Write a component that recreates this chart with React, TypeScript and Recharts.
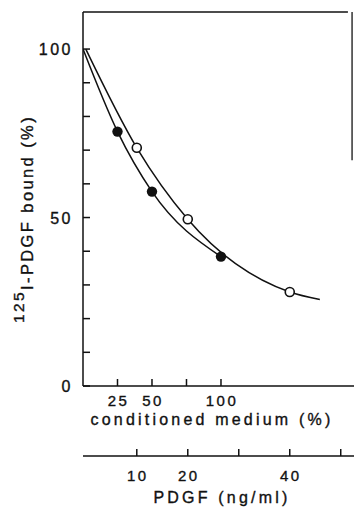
import { ComposedChart, Line, Scatter, XAxis, YAxis, ReferenceLine } from 'recharts';

// conditioned medium (%) axis
const mediumTicks = [25, 50, 75, 100];
const mediumLabels = [25, 50, 100];
// PDGF (ng/ml) axis
const pdgfTicks = [10, 20, 30, 40, 50];
const pdgfLabels = [10, 20, 40];
// bound (%) axis
const boundTicks = [0, 10, 20, 30, 40, 50, 60, 70, 80, 90, 100];
const boundLabels = [0, 50, 100];

// filled circles: conditioned medium
const mediumPoints = [
  { cm: 25, bound: 75.5 },
  { cm: 50, bound: 57.7 },
  { cm: 100, bound: 38.4 },
];
// open circles: pure PDGF
const pdgfPoints = [
  { pdgf: 10, bound: 70.7 },
  { pdgf: 20, bound: 49.5 },
  { pdgf: 40, bound: 27.9 },
];
// fitted curves as drawn (start at 100 %, PDGF curve runs past the last point)
const mediumCurve = [{ cm: 0, bound: 100 }, ...mediumPoints];
const pdgfCurve = [{ pdgf: 0, bound: 100 }, ...pdgfPoints, { pdgf: 45.9, bound: 25.7 }];

const INK = '#111';
const FONT = '"Liberation Sans", Arial, sans-serif';

function BoundTick({ x, y, payload }: any) {
  const v = payload.value;
  return (
    <g>
      <line x1={x} y1={y} x2={x + 7} y2={y} stroke={INK} strokeWidth={1.5} />
      {boundLabels.includes(v) && (
        <text x={x - 10} y={y + 6} textAnchor="end" fontSize={16} fontFamily={FONT} fill={INK} stroke={INK} strokeWidth={0.35} style={{ letterSpacing: 2.5 }}>
          {v}
        </text>
      )}
    </g>
  );
}

function makeXTick(labels: number[], dy: number) {
  return ({ x, y, payload }: any) => {
    const v = payload.value;
    return (
      <g>
        <line x1={x} y1={y} x2={x} y2={y - 7} stroke={INK} strokeWidth={1.5} />
        {labels.includes(v) && (
          <text x={x + 1} y={y + dy} textAnchor="middle" fontSize={15} fontFamily={FONT} fill={INK} stroke={INK} strokeWidth={0.35} style={{ letterSpacing: 2.5 }}>
            {v}
          </text>
        )}
      </g>
    );
  };
}

const MediumTick = makeXTick(mediumLabels, 20);
const PdgfTick = makeXTick(pdgfLabels, 25);

function AxisTitle(text: string, cx: number, dy: number) {
  return ({ viewBox }: any) => (
    <text x={cx} y={viewBox.y + dy} textAnchor="middle" fontSize={16} fontFamily={FONT} fill={INK} stroke={INK} strokeWidth={0.35} style={{ letterSpacing: 3.2 }}>
      {text}
    </text>
  );
}

function BoundTitle() {
  const cx = 33;
  const cy = 219;
  return (
    <text transform={`rotate(-90, ${cx}, ${cy})`} x={cx} y={cy} textAnchor="middle" fontSize={16.5} fontFamily={FONT} fill={INK} stroke={INK} strokeWidth={0.35} style={{ letterSpacing: 2.4 }}>
      <tspan dy={-9} fontSize={15.5}>125</tspan>
      <tspan dy={9}>I-PDGF bound (%)</tspan>
    </text>
  );
}

const Filled = ({ cx, cy }: any) => <circle cx={cx} cy={cy} r={5.2} fill={INK} />;
const Open = ({ cx, cy }: any) => <circle cx={cx} cy={cy} r={4.5} fill="#fff" stroke={INK} strokeWidth={1.6} />;

export default function App() {
  return (
    <div style={{ position: 'absolute', left: 0, top: 0, background: '#fff' }}>
      <ComposedChart width={354} height={507} margin={{ top: 12, right: 0, bottom: 0, left: 0 }}>
        <XAxis
          xAxisId="cm"
          dataKey="cm"
          type="number"
          domain={[0, 196.4]}
          ticks={mediumTicks}
          tick={<MediumTick />}
          tickLine={false}
          tickSize={0}
          tickMargin={0}
          height={70}
          axisLine={{ stroke: INK, strokeWidth: 1.5 }}
          allowDataOverflow
          label={{ content: AxisTitle('conditioned medium (%)', 212, 39) }}
        />
        <XAxis
          xAxisId="pdgf"
          dataKey="pdgf"
          type="number"
          domain={[-0.55, 52.6]}
          ticks={pdgfTicks}
          tick={<PdgfTick />}
          tickLine={false}
          tickSize={0}
          tickMargin={0}
          height={51}
          axisLine={{ stroke: INK, strokeWidth: 1.5 }}
          allowDataOverflow
          label={{ content: AxisTitle('PDGF (ng/ml)', 222, 47) }}
        />
        <YAxis
          dataKey="bound"
          type="number"
          domain={[0, 111]}
          ticks={boundTicks}
          tick={<BoundTick />}
          tickLine={false}
          tickSize={0}
          tickMargin={0}
          width={83}
          axisLine={{ stroke: INK, strokeWidth: 1.5 }}
          allowDataOverflow
          label={{ content: BoundTitle }}
        />
        <ReferenceLine xAxisId="cm" segment={[{ x: 0, y: 111 }, { x: 192, y: 111 }]} stroke={INK} strokeWidth={1.5} />
        <ReferenceLine xAxisId="cm" segment={[{ x: 195, y: 111 }, { x: 195, y: 67 }]} stroke="#333" strokeWidth={1.5} />
        <Line xAxisId="cm" data={mediumCurve} dataKey="bound" type="monotone" stroke={INK} strokeWidth={1.5} dot={false} isAnimationActive={false} />
        <Line xAxisId="pdgf" data={pdgfCurve} dataKey="bound" type="monotone" stroke={INK} strokeWidth={1.5} dot={false} isAnimationActive={false} />
        <Scatter xAxisId="cm" data={mediumPoints} dataKey="bound" shape={Filled} isAnimationActive={false} />
        <Scatter xAxisId="pdgf" data={pdgfPoints} dataKey="bound" shape={Open} isAnimationActive={false} />
      </ComposedChart>
    </div>
  );
}
